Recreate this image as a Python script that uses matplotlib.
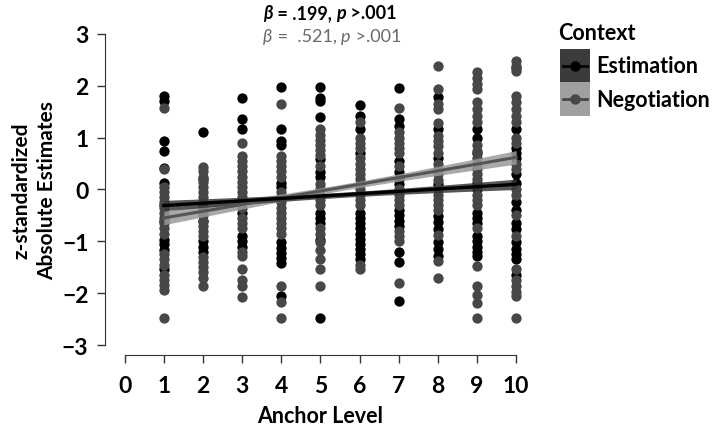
import numpy as np
import matplotlib
matplotlib.use("Agg")
import matplotlib.pyplot as plt
from matplotlib.patches import Rectangle
from matplotlib.lines import Line2D
from matplotlib.legend_handler import HandlerBase

plt.rcParams['font.family'] = ['Lato', 'DejaVu Sans']

# anchor levels and z-standardized estimates per context
anchor_levels = [1, 2, 3, 4, 5, 6, 7, 8, 9, 10]

estimation = [
    [1.80, 1.70, 0.93, 0.74, 0.42, 0.13, -0.30, -0.60, -0.97, -1.05, -1.16, -1.54],
    [1.10, 0.20, -0.25, -0.32, -0.39, -0.60, -1.00, -1.10, -1.20],
    [1.77, 1.35, 1.16, -0.45, -0.90, -1.00, -1.10],
    [1.97, 1.16, 0.93, 0.85, 0.13, 0.05, -1.02, -1.12, -1.22, -1.32, -1.41, -2.06],
    [1.97, 1.77, 1.70, 1.39, 0.58, 0.33, 0.25, -0.45, -0.55, -0.64, -0.97, -2.47],
    [1.62, 1.41, 1.16, 0.70, -0.45, -0.55, -0.65, -0.75, -0.85, -0.95, -1.05, -1.15, -1.25, -1.35],
    [1.95, 1.35, 1.22, 0.54, 0.33, 0.20, 0.10, -0.39, -0.50, -0.60, -0.71, -1.20, -1.39, -2.16],
    [1.78, 1.16, 0.60, 0.10, -0.52, -0.62, -0.77, -1.02, -1.15, -1.28],
    [1.16, 1.00, 0.70, 0.13, 0.00, -0.45, -0.55, -0.64, -0.90, -1.00, -1.10, -1.20, -1.28],
    [2.35, 1.16, 0.80, 0.70, 0.60, 0.30, 0.13, -0.25, -0.39, -0.64, -0.77, -1.02, -1.15, -1.25, -1.35, -1.65],
]

negotiation = [
    [1.58, 0.40, 0.05, -0.05, -0.15, -0.25, -0.35, -0.45, -0.55, -0.65, -0.75, -0.85,
     -1.25, -1.35, -1.45, -1.65, -1.75, -1.85, -1.93, -2.47],
    [0.44, 0.35, 0.25, 0.15, 0.05, -0.05, -0.15, -0.50, -0.60, -0.70, -0.80, -0.90,
     -1.30, -1.40, -1.50, -1.60, -1.70, -1.87],
    [0.90, 0.64, 0.55, 0.45, 0.35, 0.25, 0.15, 0.05, -0.05, -0.15, -0.25, -0.35, -0.55,
     -0.65, -0.75, -1.20, -1.29, -1.54, -1.74, -1.87, -2.08],
    [1.64, 0.64, 0.55, 0.45, 0.35, 0.25, -0.05, -0.15, -0.25, -0.35, -0.45, -0.55,
     -0.65, -0.75, -0.85, -1.87, -2.17, -2.47],
    [1.16, 1.06, 0.96, 0.86, 0.76, 0.66, 0.45, 0.10, 0.00, -0.10, -0.20, -0.30, -0.75,
     -0.85, -1.02, -1.16, -1.35, -1.54, -1.87],
    [1.30, 1.00, 0.90, 0.80, 0.60, 0.50, 0.40, 0.30, 0.20, 0.10, 0.00, -0.10, -0.20,
     -0.30, -1.45, -1.54],
    [1.58, 1.10, 1.00, 0.90, 0.80, 0.70, 0.45, 0.00, -0.10, -0.20, -0.30, -0.80, -0.90,
     -1.00, -1.80],
    [2.39, 1.93, 1.64, 1.55, 1.29, 1.03, 0.93, 0.83, 0.70, 0.50, 0.39, 0.29, 0.19, 0.00,
     -0.10, -0.20, -0.30, -0.40, -0.88, -1.38, -1.70],
    [2.26, 2.15, 2.04, 1.93, 1.68, 1.55, 1.42, 1.31, 0.85, 0.75, 0.60, 0.50, 0.40, 0.30,
     0.20, -0.10, -0.20, -0.30, -0.75, -1.48, -1.87, -2.03, -2.18, -2.47],
    [2.47, 2.38, 2.28, 1.80, 1.68, 1.55, 1.42, 1.30, 1.00, 0.90, 0.50, 0.40, 0.00, -0.10,
     -0.50, -0.90, -1.54, -1.75, -1.87, -1.97, -2.06, -2.47],
]

# fitted lines: value at anchor 1 and 10, CI half-width at ends and centre
est_fit = [-0.31, 0.10]
neg_fit = [-0.55, 0.62]
est_ci = [0.10, 0.05]
neg_ci = [0.13, 0.06]

est_col = '#000000'
neg_col = '#474747'

fig = plt.figure(figsize=(7.17, 4.35), dpi=100)
ax = fig.add_axes([0.1466, 0.1807, 0.6006, 0.7628])


def flat(groups):
    xs, ys = [], []
    for lvl, vals in zip(anchor_levels, groups):
        xs += [lvl] * len(vals)
        ys += vals
    return xs, ys


ex, ey = flat(estimation)
nx, ny = flat(negotiation)
ax.scatter(ex, ey, s=55, color=est_col, linewidths=0, zorder=2)
ax.scatter(nx, ny, s=55, color=neg_col, linewidths=0, zorder=2)


def fit_band(fit, ci):
    xs = np.linspace(anchor_levels[0], anchor_levels[-1], 60)
    t = (xs - xs[0]) / (xs[-1] - xs[0])
    ys = fit[0] + (fit[1] - fit[0]) * t
    hw = np.sqrt(ci[1] ** 2 + (ci[0] ** 2 - ci[1] ** 2) * (2 * t - 1) ** 2)
    return xs, ys, hw


xs, ys, hw = fit_band(neg_fit, neg_ci)
ax.fill_between(xs, ys - hw, ys + hw, color='#9a9a9a', alpha=0.85, lw=0, zorder=3)
nline = (xs, ys)
xs, ys, hw = fit_band(est_fit, est_ci)
ax.fill_between(xs, ys - hw, ys + hw, color='#3a3a3a', alpha=0.85, lw=0, zorder=3)
ax.plot(*nline, color='#555555', lw=2.2, zorder=4)
ax.plot(xs, ys, color=est_col, lw=2.4, zorder=4)

ax.set_xlim(-0.5, 10.5)
ax.set_ylim(-3.2, 3.2)
ax.set_xticks(range(0, 11))
ax.set_yticks(range(-3, 4))
for s in ['top', 'right']:
    ax.spines[s].set_visible(False)
ax.spines['left'].set_bounds(-3, 3)
ax.spines['bottom'].set_bounds(0, 10)
ax.spines['left'].set_color('#333333')
ax.spines['bottom'].set_color('#333333')
ax.tick_params(axis='both', length=6, width=1, color='#333333', labelsize=16.5)
ax.tick_params(axis='x', pad=8)
ax.tick_params(axis='y', pad=6)
for lab in ax.get_xticklabels() + ax.get_yticklabels():
    lab.set_fontweight('bold')

ax.set_xlabel('Anchor Level', fontsize=15.5, fontweight='bold')
ax.xaxis.set_label_coords(0.5, -0.150)
ax.set_ylabel('z-standardized\nAbsolute Estimates', fontsize=15, fontweight='bold',
              linespacing=1.35)
ax.yaxis.set_label_coords(-0.111, 0.5)

# two-line coefficient heading with italic symbols
lines = [
    ([('β', 'italic'), (' = .199, ', 'normal'), ('p', 'italic'), (' >.001', 'normal')],
     'bold', '#000000', 0.949),
    ([('β', 'italic'), (' =  .521, ', 'normal'), ('p', 'italic'), (' >.001', 'normal')],
     'normal', '#6a6a6a', 0.897),
]
for pieces, weight, color, yy in lines:
    prev = None
    for txt, style in pieces:
        if prev is None:
            prev = fig.text(0.367, yy, txt, fontsize=13, fontweight=weight,
                            fontstyle=style, color=color, va='bottom')
        else:
            prev = ax.annotate(txt, xy=(1, 0), xycoords=prev, va='bottom',
                               fontsize=13, fontweight=weight, fontstyle=style,
                               color=color, annotation_clip=False)


# legend key: filled square with a line and dot through it
class Key:
    def __init__(self, fill, color):
        self.fill = fill
        self.color = color


class KeyHandler(HandlerBase):
    def create_artists(self, legend, orig_handle, xdescent, ydescent, width, height,
                       fontsize, trans):
        box = Rectangle((-xdescent, -ydescent), width, height, facecolor=orig_handle.fill,
                        edgecolor='none', transform=trans)
        yc = height / 2 - ydescent
        ln = Line2D([-xdescent + 2, width - xdescent - 2], [yc, yc], color=orig_handle.color,
                    lw=2, transform=trans)
        dot = Line2D([width / 2 - xdescent], [yc], marker='o', ms=6.5,
                     color=orig_handle.color, transform=trans)
        return [box, ln, dot]


fig.text(558 / 717, 1 - 33 / 435, 'Context', fontsize=15.5, fontweight='bold',
         va='center', ha='left')
handles = [Key('#3b3b3b', est_col), Key('#a0a0a0', neg_col)]
leg = fig.legend(handles, ['Estimation', 'Negotiation'], loc='upper left',
                 bbox_to_anchor=(560 / 717, 1 - 50 / 435), frameon=False,
                 handler_map={Key: KeyHandler()}, fontsize=15.5, handlelength=1.38,
                 handleheight=2.0, labelspacing=0.0, handletextpad=0.3, borderpad=0,
                 borderaxespad=0)
for t in leg.get_texts():
    t.set_fontweight('bold')

fig.savefig('out.png', dpi=100)
